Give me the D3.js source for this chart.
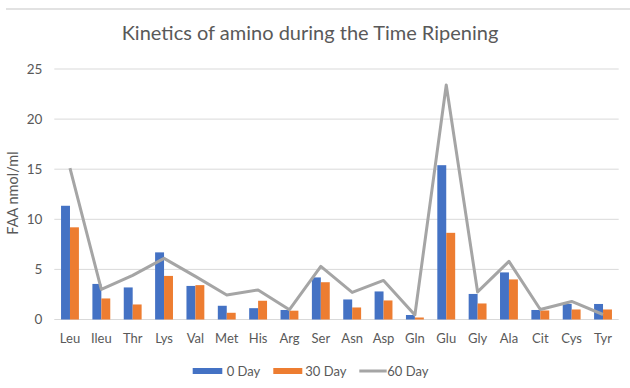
<!DOCTYPE html>
<html>
<head>
<meta charset="utf-8">
<script src="https://cdn.jsdelivr.net/npm/d3@7"></script>
<style>
  body { margin: 0; background: #fff; }
  text { font-family: Lato, "Open Sans", sans-serif; fill: #595959; }
</style>
</head>
<body>
<div id="chart"></div>
<script>
var categories = ["Leu", "Ileu", "Thr", "Lys", "Val", "Met", "His", "Arg", "Ser", "Asn",
                  "Asp", "Gln", "Glu", "Gly", "Ala", "Cit", "Cys", "Tyr"];
var day0  = [11.35, 3.55, 3.2, 6.7, 3.35, 1.37, 1.13, 0.95, 4.2, 2.0, 2.8, 0.45, 15.4, 2.55, 4.7, 0.95, 1.55, 1.55];
var day30 = [9.2, 2.1, 1.5, 4.35, 3.43, 0.67, 1.87, 0.88, 3.72, 1.2, 1.9, 0.2, 8.65, 1.6, 4.0, 0.9, 1.0, 1.0];
var day60 = [15.1, 3.0, 4.4, 6.1, 4.3, 2.45, 2.95, 0.98, 5.3, 2.7, 3.9, 0.45, 23.4, 2.75, 5.8, 1.0, 1.8, 0.5];
var yTicks = [0, 5, 10, 15, 20, 25];
var seriesNames = ["0 Day", "30 Day", "60 Day"];
var colors = ["#4472C4", "#ED7D31", "#A5A5A5"];

var width = 630, height = 388;

var svg = d3.select("#chart").append("svg")
    .attr("width", width)
    .attr("height", height);

// strip of the page above the chart
svg.append("line")
    .attr("x1", 6).attr("x2", 630)
    .attr("y1", 9).attr("y2", 9)
    .attr("stroke", "#d9d9d9")
    .attr("stroke-width", 1.5);

var x = d3.scaleBand()
    .domain(categories)
    .range([54.3, 618.7]);

var y = d3.scaleLinear()
    .domain([0, 25])
    .range([319.5, 69]);

// gridlines
svg.append("g")
    .selectAll("line")
    .data(yTicks)
    .enter().append("line")
    .attr("x1", 54.3)
    .attr("x2", 618.7)
    .attr("y1", function (d) { return y(d); })
    .attr("y2", function (d) { return y(d); })
    .attr("stroke", "#d9d9d9")
    .attr("stroke-width", 1);

// y axis labels
var yAxis = d3.axisLeft(y)
    .tickValues(yTicks)
    .tickSize(0)
    .tickPadding(12);

var yAxisGroup = svg.append("g")
    .attr("transform", "translate(54.3,0)")
    .call(yAxis);
yAxisGroup.select(".domain").remove();
yAxisGroup.selectAll("text")
    .style("font-size", "13.5px")
    .style("fill", "#595959");

// x axis labels
var xAxis = d3.axisBottom(x)
    .tickSize(0)
    .tickPadding(14);

var xAxisGroup = svg.append("g")
    .attr("transform", "translate(0,319.5)")
    .call(xAxis);
xAxisGroup.select(".domain").remove();
xAxisGroup.selectAll("text")
    .style("font-size", "13px")
    .style("fill", "#595959");

// bars
var bw = x.bandwidth() * 0.285;

svg.append("g")
    .selectAll("rect")
    .data(day0)
    .enter().append("rect")
    .attr("x", function (d, i) { return x(categories[i]) + x.bandwidth() / 2 - bw; })
    .attr("y", function (d) { return y(d); })
    .attr("width", bw)
    .attr("height", function (d) { return y(0) - y(d); })
    .attr("fill", colors[0]);

svg.append("g")
    .selectAll("rect")
    .data(day30)
    .enter().append("rect")
    .attr("x", function (d, i) { return x(categories[i]) + x.bandwidth() / 2; })
    .attr("y", function (d) { return y(d); })
    .attr("width", bw)
    .attr("height", function (d) { return y(0) - y(d); })
    .attr("fill", colors[1]);

// 60 day line
var line = d3.line()
    .x(function (d, i) { return x(categories[i]) + x.bandwidth() / 2; })
    .y(function (d) { return y(d); });

svg.append("path")
    .datum(day60)
    .attr("d", line)
    .attr("fill", "none")
    .attr("stroke", colors[2])
    .attr("stroke-width", 3)
    .attr("stroke-linejoin", "round");

// title
svg.append("text")
    .attr("x", 310)
    .attr("y", 40)
    .attr("text-anchor", "middle")
    .style("font-size", "20px")
    .text("Kinetics of amino during the Time Ripening");

// y axis title
svg.append("text")
    .attr("transform", "translate(18,193) rotate(-90)")
    .attr("text-anchor", "middle")
    .style("font-size", "14.5px")
    .text("FAA nmol/ml");

// legend
var legendX = [192.7, 273.3, 359.3];
var legend = svg.append("g");

legend.append("rect")
    .attr("x", legendX[0]).attr("y", 368)
    .attr("width", 29.6).attr("height", 6)
    .attr("fill", colors[0]);
legend.append("rect")
    .attr("x", legendX[1]).attr("y", 368)
    .attr("width", 29).attr("height", 6)
    .attr("fill", colors[1]);
legend.append("line")
    .attr("x1", legendX[2]).attr("x2", legendX[2] + 27.4)
    .attr("y1", 371).attr("y2", 371)
    .attr("stroke", colors[2])
    .attr("stroke-width", 3);

legend.selectAll("text")
    .data(seriesNames)
    .enter().append("text")
    .attr("x", function (d, i) { return [226.7, 305.3, 387.3][i]; })
    .attr("y", 376)
    .style("font-size", "13px")
    .text(function (d) { return d; });
</script>
</body>
</html>
